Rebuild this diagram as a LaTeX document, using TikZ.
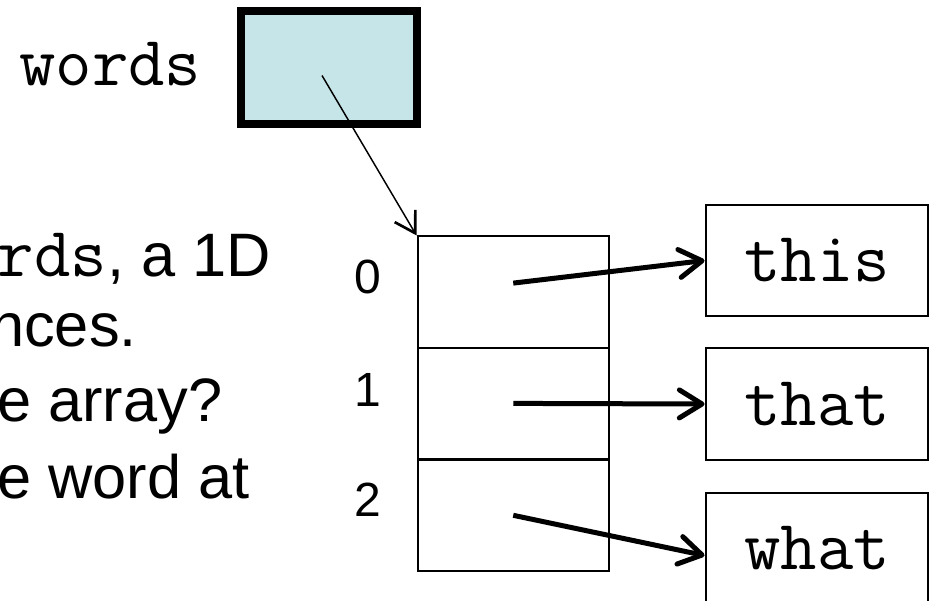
\documentclass[tikz,border=0pt]{standalone}
\usepackage{fontspec}
\setmainfont{Liberation Sans}
\usetikzlibrary{arrows.meta}
\definecolor{boxblue}{HTML}{C6E5E8}
\newcommand{\codefont}{\ttfamily\fontsize{53}{53}\selectfont}
\tikzset{
  cell/.style={draw, line width=1.5pt, minimum width=143.6pt, minimum height=83.5pt, inner sep=0pt},
  wordbox/.style={draw, line width=1.5pt, minimum width=167.2pt, minimum height=83.3pt, inner sep=0pt,
    font=\codefont},
  varbox/.style={draw, line width=6pt, fill=boxblue, minimum width=132pt, minimum height=84.75pt, inner sep=0pt},
  idx/.style={font=\fontsize{36}{36}\selectfont, inner sep=0pt},
  slidetext/.style={anchor=base east, inner sep=0pt, font=\fontsize{46}{54}\selectfont},
  bigarrow/.style={-{Straight Barb[length=17pt,width=21pt,line cap=round,line join=round]}, line width=3.75pt},
  thinarrow/.style={-{Straight Barb[length=15pt,width=18pt,line width=2pt]}, line width=1.1pt},
}
\begin{document}
\begin{tikzpicture}[x=0.75pt,y=-0.75pt]
\useasboundingbox (0,0) rectangle (931,600);

% variable
\node[anchor=base west, inner sep=0pt, font=\codefont] (wlabel) at (19,85) {words};
\node[varbox] (wb) at (329,67.5) {};

% slide text (cut at left)
\node[slidetext] (t1) at (271,276) {{\codefont rds}, a 1D};
\node[slidetext] (t2) at (137,346) {nces.};
\node[slidetext, anchor=base west] (t3) at (-3,421) {e array?};
\node[slidetext, anchor=base west] (t4) at (-3,498) {e word at};

% array
\node[cell] (c0) at (513.25,292.1) {};
\node[cell] (c1) at (513.25,403.4) {};
\node[cell] (c2) at (513.25,515.3) {};
\node[idx] (i0) at (368,277) {0};
\node[idx] (i1) at (368,390) {1};
\node[idx] (i2) at (368,500) {2};

% strings
\node[wordbox] (this) at (817,260.5) {this};
\node[wordbox] (that) at (817,404) {that};
\node[wordbox] (what) at (817,548.5) {what};

% connectors
\draw[thinarrow] ([shift={(-7,8)}]wb.center) -- (c0.north west);
\draw[bigarrow] ([shift={(0,-9)}]c0.center) -- (this.west);
\draw[bigarrow] (c1.center) -- (that.west);
\draw[bigarrow] (c2.center) -- ([shift={(0,7)}]what.west);
\end{tikzpicture}
\end{document}
